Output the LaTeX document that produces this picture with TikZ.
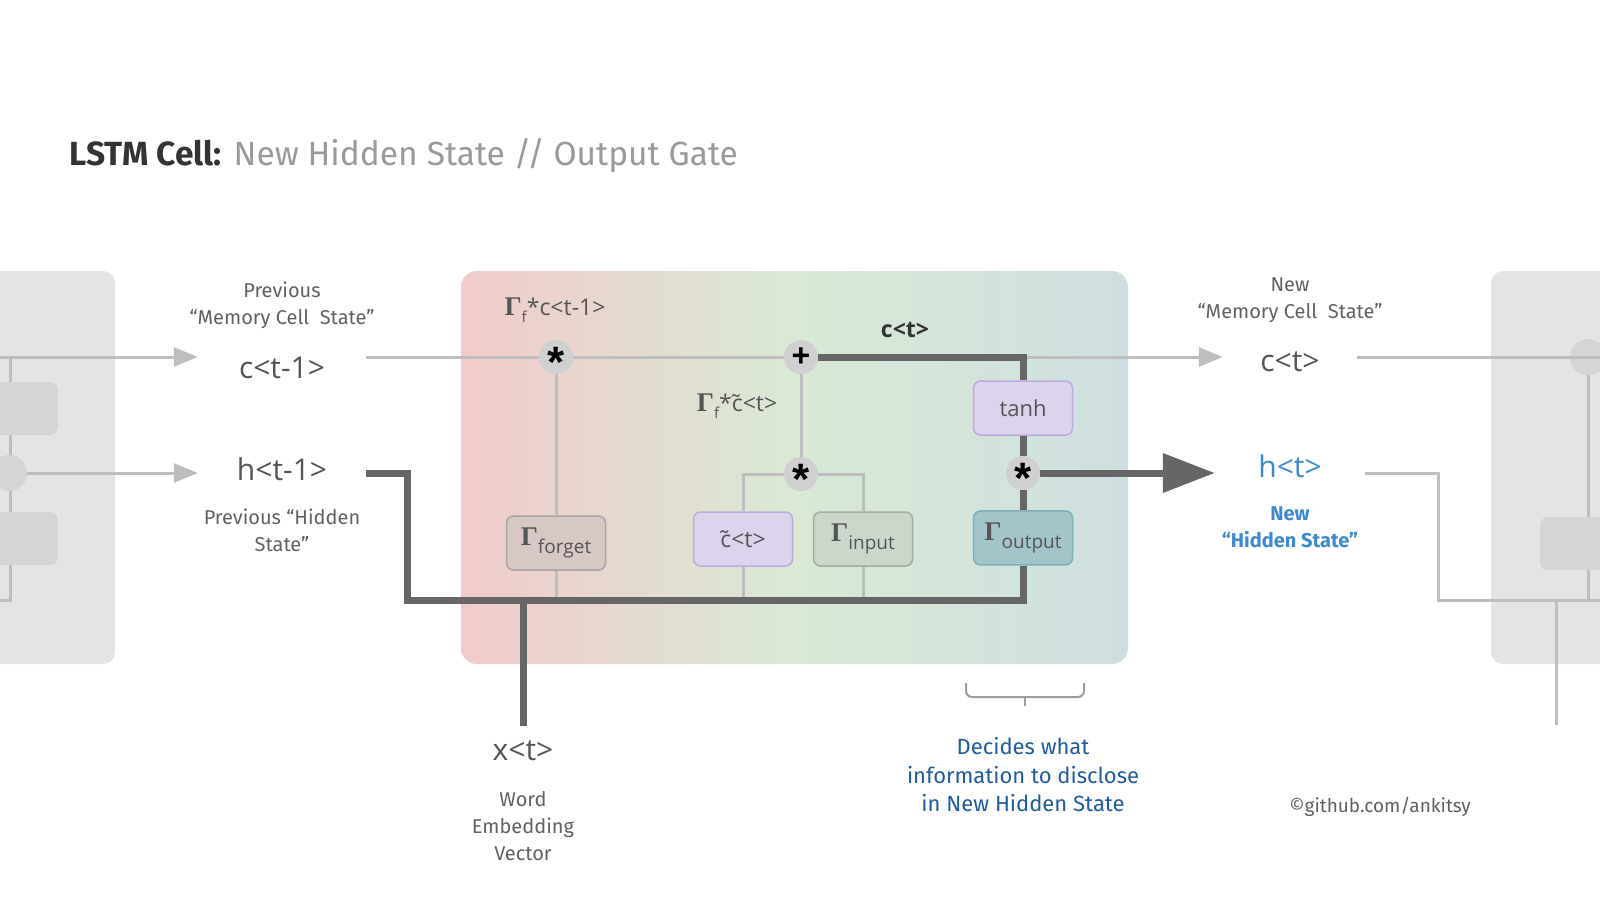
\documentclass[tikz,border=0pt]{standalone}
\usepackage{fontspec}
\setmainfont{Fira Sans}
\newfontfamily\lblfont{Open Sans}
\newfontfamily\symfont{Liberation Sans}
\newfontfamily\gamfont{Liberation Serif}
\usetikzlibrary{positioning, arrows.meta, calc}

\definecolor{wirelite}{HTML}{BEBEBE}
\definecolor{wiredark}{HTML}{666666}
\definecolor{opfill}{HTML}{D0D0D0}
\definecolor{sidebox}{HTML}{E4E4E4}
\definecolor{sideinner}{HTML}{D5D5D5}
\definecolor{cellpink}{HTML}{F1CBCB}
\definecolor{cellgreen}{HTML}{D9E9D5}
\definecolor{cellblue}{HTML}{CFDFE1}
\definecolor{fgfill}{HTML}{D8C8C5}
\definecolor{fgline}{HTML}{A9A3A3}
\definecolor{lavfill}{HTML}{DCD3EC}
\definecolor{lavline}{HTML}{BBADE2}
\definecolor{igfill}{HTML}{CCD7CB}
\definecolor{igline}{HTML}{A3ABA3}
\definecolor{ogfill}{HTML}{A3C4C9}
\definecolor{ogline}{HTML}{7FB0B6}
\definecolor{txtgray}{HTML}{555555}
\definecolor{notegray}{HTML}{616161}
\definecolor{titledark}{HTML}{333333}
\definecolor{titlegray}{HTML}{9A9A9A}
\definecolor{bracegray}{HTML}{9E9E9E}
\definecolor{hblue}{HTML}{3D8AD2}
\definecolor{noteblue}{HTML}{1F5C9E}

\newcommand{\fsz}[2]{\fontsize{#1}{#2}\selectfont}
\newcommand{\opstar}{\raisebox{-20pt}[0pt][0pt]{\symfont\bfseries\fsz{44}{44}*}}
\newcommand{\opplus}{{\symfont\bfseries\fsz{32}{32}+}}
\newcommand{\gam}[1]{{\gamfont\bfseries\fsz{27}{27}Γ}\raisebox{-8pt}{\lblfont\fsz{19}{19}#1}}

\begin{document}
\begin{tikzpicture}[x=1pt, y=-1pt,
    litewire/.style={draw=wirelite, line width=3pt},
    heavywire/.style={draw=wiredark, line width=7pt},
    opnode/.style={circle, fill=opfill, minimum size=34pt, inner sep=0pt},
    gatebox/.style={draw, rounded corners=7pt, line width=1.5pt, minimum width=99pt, minimum height=54pt, inner sep=0pt, text=txtgray},
    var/.style={font=\lblfont\fsz{30}{30}, text=txtgray, minimum width=168pt, inner sep=0pt},
    note/.style={font=\fsz{20}{27}, text=notegray, align=center},
    node distance=20pt]
  \useasboundingbox[fill=white] (0,0) rectangle (1600,900);

  \node[anchor=west, font=\fsz{33.5}{33.5}] (title) at (66,156)
    {{\bfseries\color{titledark}LSTM Cell:} {\color{titlegray}New Hidden State // Output Gate}};

  % neighbouring cells
  \fill[sidebox, rounded corners=12pt] (-30,271) rectangle (115,664);
  \fill[sidebox, rounded corners=12pt] (1491,271) rectangle (1640,664);
  \draw[litewire] (10,357) -- (10,600) -- (-30,600);
  \fill[sideinner, rounded corners=8pt] (-30,382) rectangle (58,435);
  \fill[sideinner, rounded corners=8pt] (-30,512) rectangle (58,565);
  \node[circle, fill=sideinner, minimum size=36pt, inner sep=0pt] (lcirc) at (9,473) {};
  \coordinate (lc) at (-30,357);
  \draw[litewire] (1588,357) -- (1588,600);
  \fill[sideinner, rounded corners=8pt] (1540,517) rectangle (1640,570);
  \node[circle, fill=sideinner, minimum size=36pt, inner sep=0pt] (rcirc) at (1588,357) {};

  % the cell
  \shade[left color=cellpink, right color=cellblue, middle color=cellgreen, rounded corners=16pt]
    (461,271) rectangle (1128,664);

  \node[var] (cprev) at (282,368) {c<t-1>};
  \node[var] (hprev) at (282,469) {h<t-1>};
  \node[var, minimum width=134pt] (cnext) at (1290,362) {c<t>};
  \node[var, minimum width=150pt, text=hblue] (hnext) at (1290,466) {h<t>};
  \node[var, inner ysep=15pt] (xin) at (523,751) {x<t>};

  \node[opnode] (fmul) at (556,357) {\opstar};
  \node[opnode] (cadd) at (801,357) {\opplus};
  \node[opnode] (imul) at (801,474) {\opstar};
  \node[opnode] (omul) at (1023,473) {\opstar};
  \node[gatebox, fill=lavfill, draw=lavline, font=\lblfont\fsz{22}{22}] (tanh) [above=of omul] {tanh};
  \node[gatebox, fill=ogfill, draw=ogline] (ogate) [below=of omul] {\gam{output}};
  \node[gatebox, fill=fgfill, draw=fgline] (fgate) at (556,543) {\gam{forget}};
  \node[gatebox, fill=lavfill, draw=lavline, font=\lblfont\fsz{23}{23}] (ctil) at (743,539) {c̃<t>};
  \node[gatebox, fill=igfill, draw=igline] (igate) at (863,539) {\gam{input}};

  \node[font=\lblfont\fsz{23}{23}, text=txtgray] (fclbl) at (555,310)
    {{\gamfont\bfseries\fsz{27}{27}Γ}\raisebox{-7pt}{\fsz{15}{15}f}*c<t-1>};
  \node[font=\lblfont\fsz{23}{23}, text=txtgray] (iclbl) at (737,406)
    {{\gamfont\bfseries\fsz{27}{27}Γ}\raisebox{-7pt}{\fsz{15}{15}f}*c̃<t>};
  \node[font=\lblfont\bfseries\fsz{23}{23}, text=titledark] (ctlbl) at (905,330) {c<t>};

  \coordinate (busL) at (407,600);
  \coordinate (ccorner) at (1023,357);
  \coordinate (rbus) at (1438,600);
  \coordinate (rdown) at (1556,725);

  % memory line
  \draw[litewire, -{Triangle[length=24pt,width=19pt]}] (lc) -- (lc -| cprev.west);
  \draw[litewire] (cprev.east |- fmul) -- (fmul);
  \draw[litewire] (fmul) -- (cadd);
  \draw[litewire, -{Triangle[length=24pt,width=19pt]}] (ccorner) -- (ccorner -| cnext.west);
  \draw[litewire] (cnext.east |- rcirc) -- (rcirc.center) -- (1640,357);
  \draw[heavywire] (cadd) -- (ccorner) -- (tanh);

  % gates
  \draw[litewire] (fmul) -- (fgate);
  \draw[litewire] (fgate) -- (fgate |- busL);
  \draw[litewire] (cadd) -- (imul);
  \draw[litewire] (imul) -| (ctil);
  \draw[litewire] (imul) -| (igate);
  \draw[litewire] (ctil) -- (ctil |- busL);
  \draw[litewire] (igate) -- (igate |- busL);

  % hidden state
  \draw[litewire, -{Triangle[length=24pt,width=19pt]}] (lcirc) -- (lcirc -| hprev.west);
  \draw[heavywire] (hprev.east |- lcirc) -| (busL) -| (ogate.south);
  \draw[heavywire] (xin.north |- busL) -- (xin.north);
  \draw[heavywire] (tanh) -- (omul);
  \draw[heavywire] (omul) -- (ogate);
  \draw[heavywire, -{Triangle[length=52pt,width=38pt]}] (omul) -- (omul -| hnext.west);
  \draw[litewire] (hnext.east |- omul) -| (rbus) -- (1640,600);
  \draw[litewire] (rdown |- rbus) -- (rdown);

  % notes
  \node[note] (cprevnote) at (282,305) {Previous\\“Memory Cell\ \ State”};
  \node[note] (hprevnote) at (282,530) {Previous “Hidden\\State”};
  \node[note] (cnextnote) at (1290,300) {New\\“Memory Cell\ \ State”};
  \node[note, text=hblue, font=\bfseries\fsz{20}{27}] (hnextnote) at (1290,527) {New\\“Hidden State”};
  \node[note] (xnote) at (523,826) {Word\\Embedding\\Vector};
  \node[note, text=noteblue, font=\fsz{22}{28.5}] (outnote) at (1023,775)
    {Decides what\\information to disclose\\in New Hidden State};
  \draw[bracegray, line width=2pt, rounded corners=6pt] (966,683) -- (966,697) -- (1084,697) -- (1084,683);
  \draw[bracegray, line width=2pt] (1025,697) -- (1025,706);
  \node[font=\fsz{19}{19}, text=notegray] (credit) at (1380,807) {©github.com/ankitsy};
\end{tikzpicture}
\end{document}
